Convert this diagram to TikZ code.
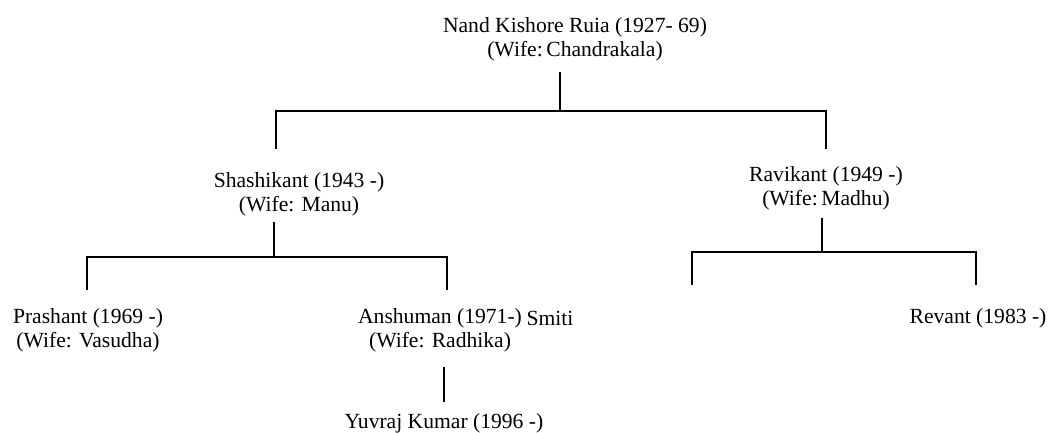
\documentclass[tikz,border=0pt]{standalone}
\usepackage{fontspec}
\setmainfont{Liberation Serif}
\begin{document}
\begin{tikzpicture}[x=1pt,y=-1pt,
  person/.style={inner sep=0pt, align=center, font=\fontsize{21.6}{24}\selectfont},
  link/.style={line width=1.7pt, line cap=butt}]
\useasboundingbox (0,0) rectangle (1052,433);
% people
\node[person] (nand) at (575,39) {Nand Kishore Ruia (1927- 69)\\(Wife:\,Chandrakala)};
\node[person] (shashi) at (299,194) {Shashikant (1943 -)\\(Wife: Manu)};
\node[person] (ravi) at (826,188) {Ravikant (1949 -)\\(Wife:\,Madhu)};
\node[person] (prashant) at (88,330) {Prashant (1969 -)\\(Wife: Vasudha)};
\node[person] (anshu) at (440,330) {Anshuman (1971-)\\(Wife: Radhika)};
\node[person] (smiti) at (550,318) {Smiti};
\node[person] (revant) at (978,318) {Revant (1983 -)};
\node[person] (yuvraj) at (444,423) {Yuvraj Kumar (1996 -)};
% junction points
\coordinate (n1) at (560,72);
\coordinate (n2) at (560,111);
\coordinate (n3) at (276,111);
\coordinate (n4) at (826,111);
\coordinate (n5) at (276,149);
\coordinate (n6) at (826,149);
\coordinate (s1) at (274,222);
\coordinate (s2) at (274,257);
\coordinate (s3) at (87,257);
\coordinate (s4) at (447,257);
\coordinate (s5) at (87,290);
\coordinate (s6) at (447,290);
\coordinate (r1) at (822,218);
\coordinate (r2) at (822,252);
\coordinate (r3) at (692,252);
\coordinate (r4) at (976,252);
\coordinate (r5) at (692,285);
\coordinate (r6) at (976,285);
\coordinate (a1) at (444,367);
\coordinate (a2) at (444,402);
% connectors
\draw[link] (n1) -- (n2);
\draw[link] (n5) -- (n3) -- (n4) -- (n6);
\draw[link] (s1) -- (s2);
\draw[link] (s5) -- (s3) -- (s4) -- (s6);
\draw[link] (r1) -- (r2);
\draw[link] (r5) -- (r3) -- (r4) -- (r6);
\draw[link] (a1) -- (a2);
\end{tikzpicture}
\end{document}
